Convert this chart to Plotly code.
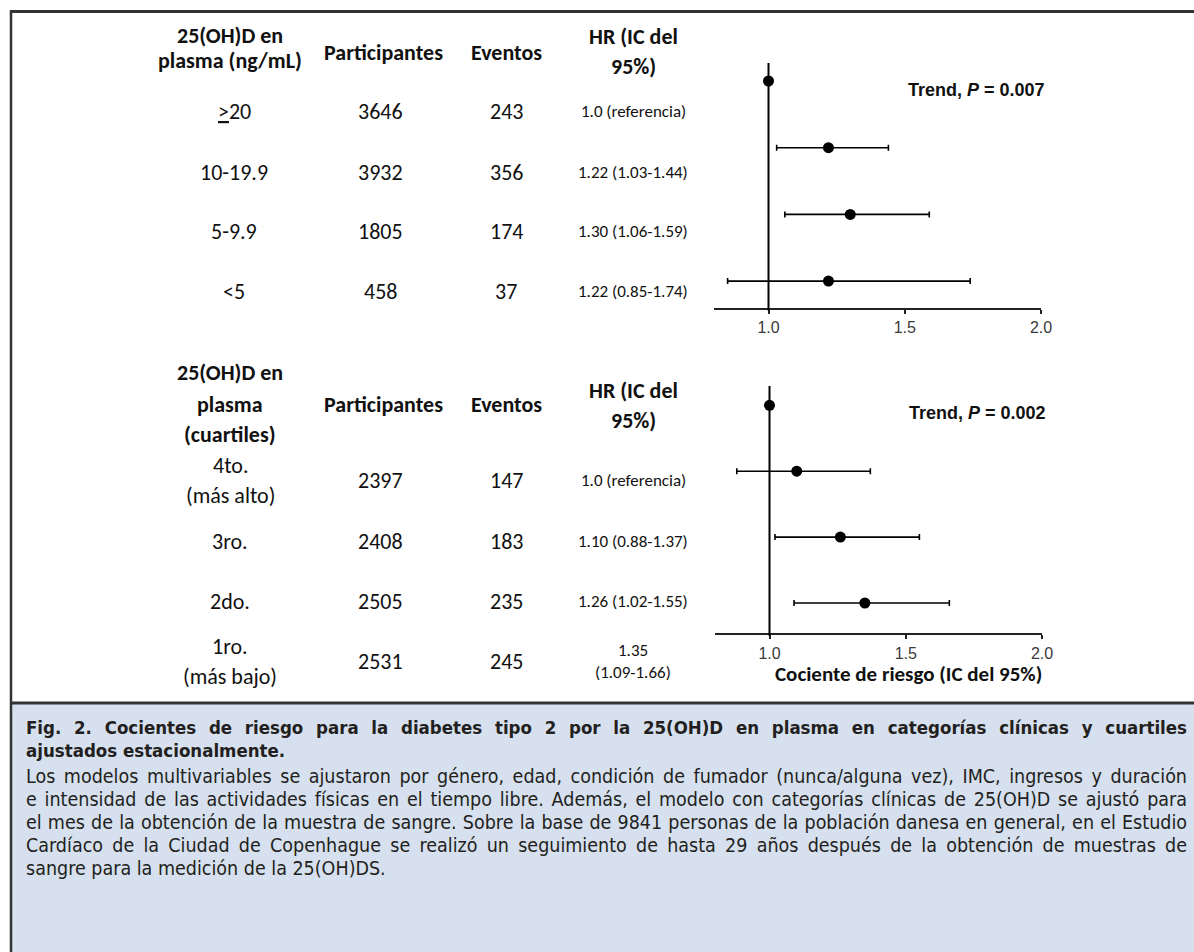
import json
import plotly.graph_objects as go

W, H = 1194, 952

# ---------------- data ----------------
clin_cats = ["<u>&gt;</u>20", "10-19.9", "5-9.9", "&lt;5"]
clin_part = [3646, 3932, 1805, 458]
clin_events = [243, 356, 174, 37]
clin_hr = [1.0, 1.22, 1.30, 1.22]
clin_lo = [1.0, 1.03, 1.06, 0.85]
clin_hi = [1.0, 1.44, 1.59, 1.74]
clin_hr_text = ["1.0 (referencia)", "1.22 (1.03-1.44)", "1.30 (1.06-1.59)", "1.22 (0.85-1.74)"]
clin_trend = "0.007"

q_cats = ["4to.<br>(más alto)", "3ro.", "2do.", "1ro.<br>(más bajo)"]
q_part = [2397, 2408, 2505, 2531]
q_events = [147, 183, 235, 245]
q_hr = [1.0, 1.10, 1.26, 1.35]
q_lo = [1.0, 0.88, 1.02, 1.09]
q_hi = [1.0, 1.37, 1.55, 1.66]
q_hr_text = ["1.0 (referencia)", "1.10 (0.88-1.37)", "1.26 (1.02-1.55)", "1.35<br>(1.09-1.66)"]
q_trend = "0.002"

ref_hr = 1.0
x_ticks = [1.0, 1.5, 2.0]
x_tick_labels = ["1.0", "1.5", "2.0"]

hdr_clin = ["25(OH)D en<br>plasma (ng/mL)", "Participantes", "Eventos", "HR (IC del<br>95%)"]
hdr_q = ["25(OH)D en<br>plasma<br>(cuartiles)", "Participantes", "Eventos", "HR (IC del<br>95%)"]
x_title = "Cociente de riesgo (IC del 95%)"

cap_title = [
    "Fig. 2. Cocientes de riesgo para la diabetes tipo 2 por la 25(OH)D en plasma en categorías clínicas y cuartiles",
    "ajustados estacionalmente.",
]
cap_body = [
    "Los modelos multivariables se ajustaron por género, edad, condición de fumador (nunca/alguna vez), IMC, ingresos y duración",
    "e intensidad de las actividades físicas en el tiempo libre. Además, el modelo con categorías clínicas de 25(OH)D se ajustó para",
    "el mes de la obtención de la muestra de sangre. Sobre la base de 9841 personas de la población danesa en general, en el Estudio",
    "Cardíaco de la Ciudad de Copenhague se realizó un seguimiento de hasta 29 años después de la obtención de muestras de",
    "sangre para la medición de la 25(OH)DS.",
]

# ---------------- helpers (pixel -> paper) ----------------
def PX(x):
    return x / W

def PY(y):
    return 1 - y / H

TABLE_FONT = "Carlito, Calibri, Lato, Open Sans, sans-serif"
ARIAL = "Liberation Sans, Arial, sans-serif"
CAP_FONT = "DejaVu Sans Condensed, Liberation Sans Narrow, Liberation Sans, sans-serif"
INK = "#111111"
CAP_INK = "#231f20"

annotations = []

def txt(x, y, text, size, bold=False, family=TABLE_FONT, anchor="center", color=INK):
    t = f"<b>{text}</b>" if bold else text
    annotations.append(dict(
        x=PX(x), y=PY(y), xref="paper", yref="paper", text=t, showarrow=False,
        xanchor=anchor, yanchor="middle", align=anchor,
        font=dict(family=family, size=size, color=color),
    ))
    return len(annotations) - 1

def multiline(x, y_center, text, size, pitch, bold=False):
    lines = text.split("<br>")
    n = len(lines)
    for i, ln in enumerate(lines):
        yy = y_center + (i - (n - 1) / 2) * pitch
        txt(x, yy, ln, size, bold=bold)

col_x = [230, 383, 506, 633]
HDR = 22
VAL = 22
HRV = 17

multiline(col_x[0], 48.5, hdr_clin[0], HDR, 25, bold=True)
txt(col_x[1], 52, hdr_clin[1], HDR, bold=True)
txt(col_x[2], 52, hdr_clin[2], HDR, bold=True)
multiline(col_x[3], 51.5, hdr_clin[3], HDR, 30, bold=True)
rows_top = [111.7, 172.5, 231.5, 291.5]
for i in range(4):
    txt(col_x[0] + 4, rows_top[i], clin_cats[i], VAL)
    txt(col_x[1] - 3, rows_top[i], str(clin_part[i]), VAL)
    txt(col_x[2], rows_top[i], str(clin_events[i]), VAL)
    txt(col_x[3], rows_top[i], clin_hr_text[i], HRV)

multiline(col_x[0], 404, hdr_q[0], HDR, 31, bold=True)
txt(col_x[1], 404, hdr_q[1], HDR, bold=True)
txt(col_x[2], 404, hdr_q[2], HDR, bold=True)
multiline(col_x[3], 405, hdr_q[3], HDR, 30, bold=True)
rows_bot = [480, 541.7, 601.7, 661.7]
for i in range(4):
    multiline(col_x[0], rows_bot[i], q_cats[i], VAL, 30)
    txt(col_x[1] - 3, rows_bot[i], str(q_part[i]), VAL)
    txt(col_x[2], rows_bot[i], str(q_events[i]), VAL)
    multiline(col_x[3], rows_bot[i], q_hr_text[i], HRV, 22)

txt(906, 90, f"Trend, <i>P</i> = {clin_trend}", 18, bold=True, family=ARIAL, anchor="left")
txt(907, 412.7, f"Trend, <i>P</i> = {q_trend}", 18, bold=True, family=ARIAL, anchor="left")
txt(908, 674, x_title, 21, bold=True)

CAP_L, CAP_R = 24, 1187
justify = []
cap_y_title = [727, 750]
for i, ln in enumerate(cap_title):
    k = txt(CAP_L, cap_y_title[i], ln, 18.5, bold=True, family=CAP_FONT, anchor="left", color=CAP_INK)
    if i == 0:
        justify.append([k, CAP_R - CAP_L - 2])
cap_y_body = [776, 799, 822, 845, 868]
for i, ln in enumerate(cap_body):
    k = txt(CAP_L, cap_y_body[i], ln, 19.5, family=CAP_FONT, anchor="left", color=CAP_INK)
    if i < len(cap_body) - 1:
        justify.append([k, CAP_R - CAP_L - 2])

fig = go.Figure()

def forest(hr, lo, hi, xa, ya):
    fig.add_trace(go.Scatter(
        x=hr, y=list(range(len(hr))), mode="markers",
        marker=dict(color="black", size=11, symbol="circle"),
        error_x=dict(type="data", symmetric=False,
                     array=[h - m for h, m in zip(hi, hr)],
                     arrayminus=[m - l for m, l in zip(hr, lo)],
                     color="black", thickness=1.6, width=3),
        xaxis=xa, yaxis=ya, showlegend=False, hoverinfo="skip",
    ))

forest(clin_hr, clin_lo, clin_hi, "x", "y")
forest(q_hr, q_lo, q_hi, "x2", "y2")

axis_common = dict(
    range=[0.8, 2.0], tickvals=x_ticks, ticktext=x_tick_labels,
    showline=True, linecolor="#222222", linewidth=2,
    ticks="outside", ticklen=4, tickwidth=1.5, tickcolor="#222222",
    showgrid=False, zeroline=False, automargin=False,
    tickfont=dict(family=ARIAL, size=16, color="#3a3a3a"),
    fixedrange=True,
)

top_px = (63, 308)
bot_px = (386, 633.3)
row0_top, pitch_top = 81, 66.7
row0_bot, pitch_bot = 405.3, 65.9

fig.update_layout(
    width=W, height=H, autosize=False,
    margin=dict(l=0, r=0, t=0, b=0, pad=0, autoexpand=False),
    paper_bgcolor="white", plot_bgcolor="rgba(0,0,0,0)",
    xaxis=dict(domain=[PX(714), PX(1041)], anchor="y", **axis_common),
    yaxis=dict(domain=[PY(top_px[1]), PY(top_px[0])], anchor="x", automargin=False,
               range=[(top_px[1] - row0_top) / pitch_top, (top_px[0] - row0_top) / pitch_top],
               visible=False, fixedrange=True),
    xaxis2=dict(domain=[PX(715), PX(1042)], anchor="y2", **axis_common),
    yaxis2=dict(domain=[PY(bot_px[1]), PY(bot_px[0])], anchor="x2", automargin=False,
                range=[(bot_px[1] - row0_bot) / pitch_bot, (bot_px[0] - row0_bot) / pitch_bot],
                visible=False, fixedrange=True),
    annotations=annotations,
    showlegend=False,
)

shapes = [
    dict(type="rect", xref="paper", yref="paper", x0=PX(11), x1=1, y0=0, y1=PY(703),
         fillcolor="#d6e0ee", line=dict(width=0), layer="below"),
    dict(type="line", xref="paper", yref="paper", x0=PX(10), x1=1, y0=PY(703), y1=PY(703),
         line=dict(color="#333333", width=3)),
    dict(type="line", xref="paper", yref="paper", x0=PX(10), x1=1, y0=PY(11.5), y1=PY(11.5),
         line=dict(color="#333333", width=3)),
    dict(type="line", xref="paper", yref="paper", x0=PX(11), x1=PX(11), y0=0, y1=PY(10),
         line=dict(color="#333333", width=2.5)),
    dict(type="line", xref="x", yref="y domain", x0=ref_hr, x1=ref_hr, y0=-0.01, y1=1,
         line=dict(color="black", width=2)),
    dict(type="line", xref="x2", yref="y2 domain", x0=ref_hr, x1=ref_hr, y0=-0.01, y1=1,
         line=dict(color="black", width=2)),
]
fig.update_layout(shapes=shapes)

post_js = """
document.documentElement.style.overflow = 'hidden';
document.body.style.margin = '0';
document.body.style.overflow = 'hidden';
var gd = document.getElementById('{plot_id}');
var targets = %s;
function justifyLines(){
  targets.forEach(function(t){
    var g = gd.querySelector('g.annotation[data-index="' + t[0] + '"]');
    if (!g) return;
    var el = g.querySelector('text.annotation-text');
    if (!el) return;
    el.style.wordSpacing = '0px';
    var w = el.getComputedTextLength();
    var n = (el.textContent.match(/ /g) || []).length;
    if (n > 0 && t[1] > w) { el.style.wordSpacing = ((t[1] - w) / n) + 'px'; }
  });
}
justifyLines();
if (gd.on) { gd.on('plotly_afterplot', justifyLines); }
""" % json.dumps(justify)

fig.write_html("out.html", post_script=post_js, config={"displayModeBar": False})
